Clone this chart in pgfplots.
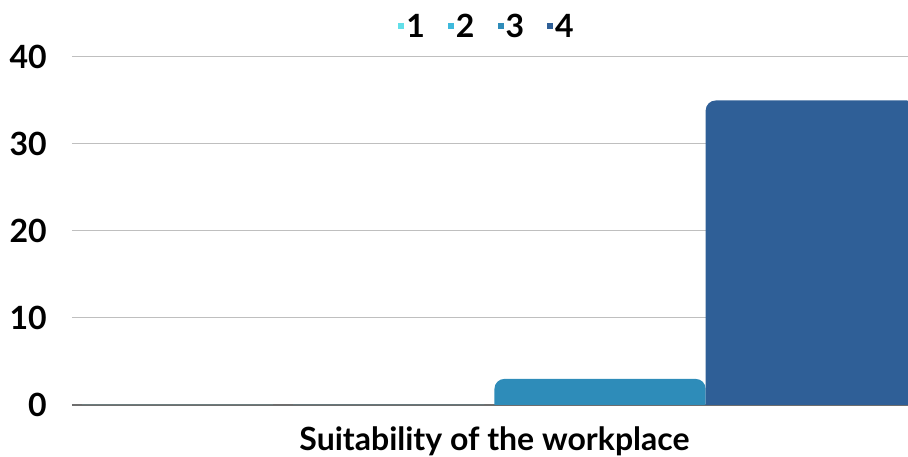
\documentclass[border=0pt]{standalone}
\usepackage{pgfplots}
\pgfplotsset{compat=1.18}
\usepackage{fontspec}
\setmainfont{Lato}
\definecolor{c1}{HTML}{62DFE9}
\definecolor{c2}{HTML}{3EB9DC}
\definecolor{c3}{HTML}{2E8CB9}
\definecolor{c4}{HTML}{2F5F97}
\definecolor{gridc}{HTML}{BFBFBF}
\definecolor{zeroc}{HTML}{6E6E6E}
\begin{document}
\begin{tikzpicture}
\path[use as bounding box] (0,0) rectangle (908pt,457pt);
\begin{axis}[
  at={(72pt,52pt)}, anchor=south west,
  scale only axis, width=836pt, height=348pt,
  xmin=0, xmax=3.958, ymin=0, ymax=40,
  axis line style={draw=none},
  major tick length=0pt,
  ytick={0,10,20,30,40},
  xtick={2}, xticklabels={Suitability of the workplace},
  ymajorgrids, grid style={color=gridc, line width=1pt},
  extra y ticks={0}, extra y tick labels={},
  extra y tick style={grid style={color=zeroc, line width=1.2pt}},
  /pgf/number format/assume math mode=true,
  yticklabel style={font=\fontsize{32}{36}\selectfont\bfseries, inner sep=0pt, xshift=-25pt},
  xticklabel style={font=\fontsize{32}{36}\selectfont\bfseries, inner sep=0pt, yshift=-22pt},
  legend columns=4,
  legend style={at={(0.5,1)}, anchor=south, xshift=-3pt, yshift=16pt, draw=none, fill=none,
    font=\fontsize{32}{36}\selectfont\bfseries, inner sep=0pt,
    /tikz/every even column/.append style={column sep=21pt}},
  legend image code/.code={\fill[#1, sharp corners] (0pt,-3pt) rectangle (6pt,3pt);},
]
\addplot[fill=c1, draw=none, rounded corners=10pt] coordinates {(0,-2) (0,0) (1,0) (1,-2)} -- cycle;
\addlegendentry{1}
\addplot[fill=c2, draw=none, rounded corners=10pt] coordinates {(1,-2) (1,0) (2,0) (2,-2)} -- cycle;
\addlegendentry{2}
\addplot[fill=c3, draw=none, rounded corners=10pt] coordinates {(2,-2) (2,3) (3,3) (3,-2)} -- cycle;
\addlegendentry{3}
\addplot[fill=c4, draw=none, rounded corners=10pt] coordinates {(3,-2) (3,35) (4,35) (4,-2)} -- cycle;
\addlegendentry{4}
\end{axis}
\end{tikzpicture}
\end{document}
